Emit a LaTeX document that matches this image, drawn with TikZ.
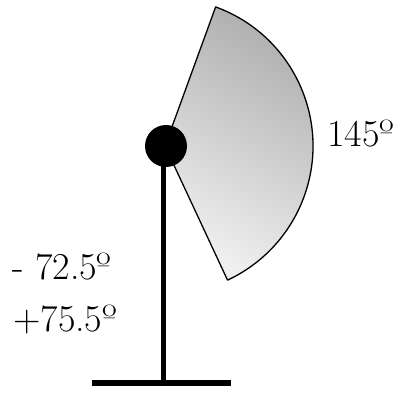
\documentclass[tikz,border=0pt]{standalone}
\usepackage{fontspec}
\begin{document}
\begin{tikzpicture}[x=1pt,y=1pt,
  lbl/.style={anchor=base west,inner sep=0pt,font=\fontsize{38}{44}\selectfont}]
\useasboundingbox (0,0) rectangle (402,394);
\coordinate (C) at (165,248);
\shade[top color=black!32,bottom color=black!6,shading angle=-30,draw=black,line width=1.3pt,line join=round]
  (C) -- ++(70:148) arc[start angle=70,end angle=-65,radius=148] -- cycle;
\coordinate (P) at (163,248);
\coordinate (F) at (163,11);
\coordinate (BL) at (92,11);
\coordinate (BR) at (231,11);
\draw[line width=5pt] (P) -- (F);
\draw[line width=6pt] (BL) -- (BR);
\fill (166,248) circle[radius=21];
\node[lbl] (a) at (327,247) {145º};
\node[lbl] (b) at (12,114) {- 72.5º};
\node[lbl] (c) at (13,63) {+75.5º};
\end{tikzpicture}
\end{document}
